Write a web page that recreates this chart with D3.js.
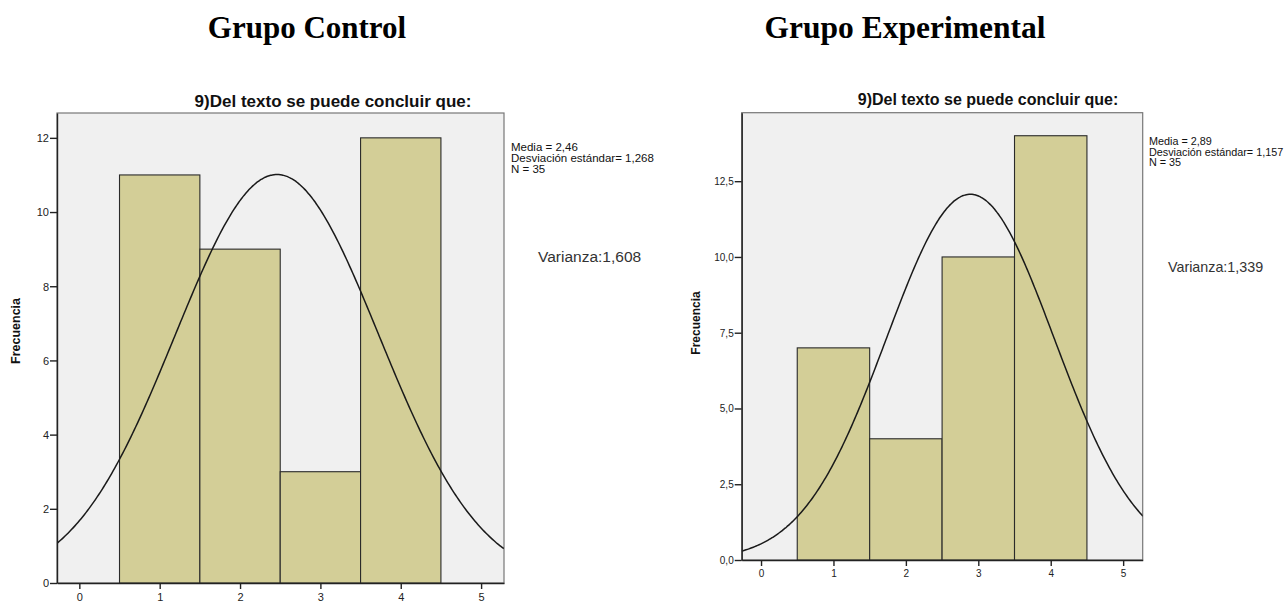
<!DOCTYPE html>
<html><head><meta charset="utf-8">
<script src="https://cdn.jsdelivr.net/npm/d3@7"></script>
<style>body{margin:0;background:#fff}svg{display:block}</style>
</head><body>
<svg id="c" width="1284" height="603"></svg>
<script>
// ---- data ----
const categories = [1, 2, 3, 4];
const controlCounts = [11, 9, 3, 12];
const experimentalCounts = [7, 4, 10, 14];
const xTicks = [0, 1, 2, 3, 4, 5];
const controlYTicks = [0, 2, 4, 6, 8, 10, 12];
const controlYTickLabels = ["0", "2", "4", "6", "8", "10", "12"];
const expYTicks = [0, 2.5, 5, 7.5, 10, 12.5];
const expYTickLabels = ["0,0", "2,5", "5,0", "7,5", "10,0", "12,5"];
const controlStats = {mean: 2.46, sd: 1.268, n: 35};
const expStats = {mean: 2.89, sd: 1.157, n: 35};
const controlLegend = ["Media = 2,46", "Desviación estándar= 1,268", "N = 35"];
const expLegend = ["Media = 2,89", "Desviación estándar= 1,157", "N = 35"];
const controlVar = "Varianza:1,608";
const expVar = "Varianza:1,339";
const groupTitles = ["Grupo Control", "Grupo Experimental"];
const chartTitle = "9)Del texto se puede concluir que:";
const yLabel = "Frecuencia";

const svg = d3.select("#c");

function drawPanel(cfg) {
  const g = svg.append("g");
  const x = d3.scaleLinear().domain(cfg.xDomain).range([cfg.left, cfg.right]);
  const y = d3.scaleLinear().domain([0, cfg.yMax]).range([cfg.bottom, cfg.top]);
  const clipId = "clip" + cfg.id;
  svg.append("clipPath").attr("id", clipId).append("rect")
    .attr("x", cfg.left).attr("y", cfg.top)
    .attr("width", cfg.right - cfg.left).attr("height", cfg.bottom - cfg.top);
  // background
  g.append("rect").attr("x", cfg.left).attr("y", cfg.top)
    .attr("width", cfg.right - cfg.left).attr("height", cfg.bottom - cfg.top)
    .attr("fill", "#f0f0f0").attr("stroke", "#777").attr("stroke-width", 1.2);
  // bars
  g.selectAll("rect.bar").data(cfg.counts).enter().append("rect")
    .attr("class", "bar")
    .attr("x", (d, i) => x(categories[i] - 0.5))
    .attr("width", (d, i) => x(categories[i] + 0.5) - x(categories[i] - 0.5))
    .attr("y", d => y(d))
    .attr("height", d => y(0) - y(d))
    .attr("fill", "#d3ce97").attr("stroke", "#2a2a2a").attr("stroke-width", 1.1);
  // normal curve
  const s = cfg.stats;
  const pts = d3.range(cfg.xDomain[0], cfg.xDomain[1] + 0.01, 0.02).map(v => [v,
    s.n / (s.sd * Math.sqrt(2 * Math.PI)) * Math.exp(-0.5 * Math.pow((v - s.mean) / s.sd, 2))]);
  g.append("path").datum(pts)
    .attr("clip-path", `url(#${clipId})`)
    .attr("d", d3.line().x(d => x(d[0])).y(d => y(d[1])).curve(d3.curveBasis))
    .attr("fill", "none").attr("stroke", "#1a1a1a").attr("stroke-width", 1.5);
  // axes
  const ya = d3.axisLeft(y).tickValues(cfg.yTicks)
    .tickFormat((d, i) => cfg.yTickLabels[i]).tickSize(7).tickSizeOuter(0);
  const yg = g.append("g").attr("transform", `translate(${cfg.left},0)`).call(ya);
  const xa = d3.axisBottom(x).tickValues(xTicks).tickFormat(d3.format("d")).tickSize(6).tickSizeOuter(0);
  const xg = g.append("g").attr("transform", `translate(0,${cfg.bottom})`).call(xa);
  [yg, xg].forEach(a => {
    a.select(".domain").attr("stroke", "#222").attr("stroke-width", 1.4);
    a.selectAll(".tick line").attr("stroke", "#222").attr("stroke-width", 1.4);
    a.selectAll("text").attr("font-family", "Liberation Sans, Arial, sans-serif")
      .attr("font-size", cfg.tickFont).attr("fill", "#222");
  });
  yg.selectAll("text").attr("x", -8).attr("dy", "0.35em");
  xg.selectAll("text").attr("y", 10);
  // y label
  g.append("text").attr("transform", `translate(${cfg.yLabelX},${cfg.yLabelY}) rotate(-90)`)
    .attr("text-anchor", "middle").attr("font-family", "Liberation Sans, Arial, sans-serif")
    .attr("font-weight", "bold").attr("font-size", cfg.yLabelFont).attr("fill", "#111").text(yLabel);
  // chart title
  g.append("text").attr("x", cfg.titleX).attr("y", cfg.titleY).attr("text-anchor", "middle")
    .attr("font-family", "Liberation Sans, Arial, sans-serif").attr("font-weight", "bold")
    .attr("font-size", cfg.titleFont).attr("fill", "#111").text(chartTitle);
  // legend
  g.append("text").attr("x", cfg.legendX).attr("y", cfg.legendY)
    .attr("font-family", "Liberation Sans, Arial, sans-serif").attr("font-size", cfg.legendFont)
    .attr("fill", "#111")
    .selectAll("tspan").data(cfg.legend).enter().append("tspan")
    .attr("x", cfg.legendX).attr("dy", (d, i) => i === 0 ? 0 : cfg.legendLH).text(d => d);
  g.append("text").attr("x", cfg.varX).attr("y", cfg.varY)
    .attr("font-family", "Liberation Sans, Arial, sans-serif").attr("font-size", cfg.varFont)
    .attr("fill", "#333").text(cfg.varText);
  // group header
  g.append("text").attr("x", cfg.headX).attr("y", 38).attr("text-anchor", "middle")
    .attr("font-family", "Liberation Serif, Times New Roman, serif").attr("font-weight", "bold")
    .attr("font-size", cfg.headFont).attr("fill", "#000").text(cfg.head);
}

drawPanel({
  id: "a", counts: controlCounts, stats: controlStats,
  xDomain: [-0.278, 5.285], yMax: 12.67,
  left: 57, right: 504, top: 113, bottom: 583,
  yTicks: controlYTicks, yTickLabels: controlYTickLabels, tickFont: 11,
  yLabelX: 20, yLabelY: 331, yLabelFont: 12.5,
  titleX: 333, titleY: 107, titleFont: 17,
  legend: controlLegend, legendX: 511, legendY: 151, legendLH: 10.8, legendFont: 11.5,
  varText: controlVar, varX: 538, varY: 262, varFont: 15.5,
  head: groupTitles[0], headX: 307, headFont: 31
});
drawPanel({
  id: "b", counts: experimentalCounts, stats: expStats,
  xDomain: [-0.267, 5.27], yMax: 14.76,
  left: 741.7, right: 1142.7, top: 112.7, bottom: 560,
  yTicks: expYTicks, yTickLabels: expYTickLabels, tickFont: 10,
  yLabelX: 700, yLabelY: 323, yLabelFont: 12,
  titleX: 988, titleY: 105, titleFont: 16,
  legend: expLegend, legendX: 1149, legendY: 145, legendLH: 10.5, legendFont: 10.8,
  varText: expVar, varX: 1168, varY: 272, varFont: 14.3,
  head: groupTitles[1], headX: 905, headFont: 31.5
});
</script>
</body></html>
